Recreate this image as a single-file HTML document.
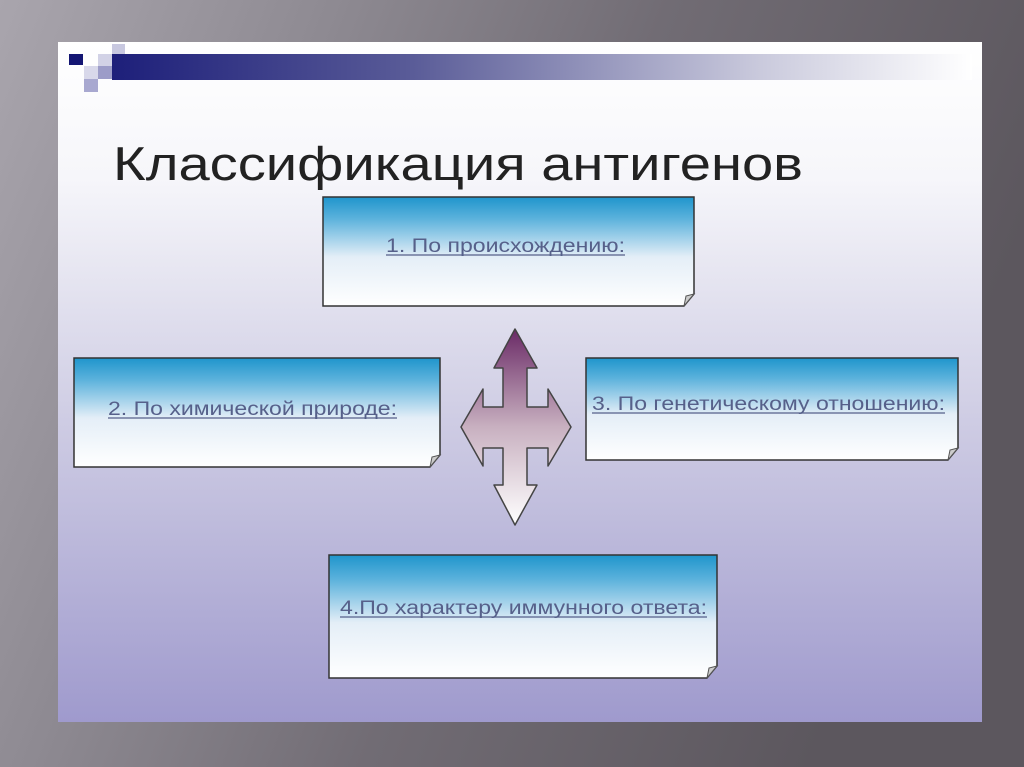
<!DOCTYPE html>
<html><head><meta charset="utf-8"><style>
html,body{margin:0;padding:0;width:1024px;height:767px;overflow:hidden;background:#666}
</style></head><body>
<svg width="1024" height="767" viewBox="0 0 1024 767" xmlns="http://www.w3.org/2000/svg" font-family="Liberation Sans, sans-serif">
<defs>
<linearGradient id="outer" x1="0" y1="0" x2="1" y2="0.3">
<stop offset="0" stop-color="#a9a5ad"/><stop offset="0.3" stop-color="#8e8a92"/><stop offset="0.6" stop-color="#716c74"/><stop offset="1" stop-color="#5c575e"/>
</linearGradient>
<linearGradient id="slide" x1="0" y1="0" x2="0" y2="1">
<stop offset="0" stop-color="#ffffff"/><stop offset="0.2" stop-color="#f6f6fa"/><stop offset="0.55" stop-color="#cfcde4"/><stop offset="1" stop-color="#9f9acd"/>
</linearGradient>
<linearGradient id="bar" x1="0" y1="0" x2="1" y2="0">
<stop offset="0" stop-color="#1d1f7a"/><stop offset="0.35" stop-color="#5a5c98"/><stop offset="0.75" stop-color="#c9c9dc"/><stop offset="1" stop-color="#ffffff"/>
</linearGradient>
<linearGradient id="box" x1="0" y1="0" x2="0" y2="1">
<stop offset="0" stop-color="#1f95cc"/><stop offset="0.2" stop-color="#5cb2dc"/><stop offset="0.55" stop-color="#e4eef7"/><stop offset="1" stop-color="#ffffff"/>
</linearGradient>
<linearGradient id="arr" x1="0" y1="0" x2="0" y2="1">
<stop offset="0" stop-color="#6a2a66"/><stop offset="0.5" stop-color="#c8b0c0"/><stop offset="1" stop-color="#ffffff"/>
</linearGradient>
</defs>
<rect width="1024" height="767" fill="url(#outer)"/>
<rect x="58" y="42" width="924" height="680" fill="url(#slide)"/>
<rect x="112" y="54" width="860" height="26" fill="url(#bar)"/>
<rect x="69" y="54" width="14" height="11" fill="#141673"/>
<rect x="98" y="54" width="14" height="12" fill="#d2d2e6"/>
<rect x="112" y="44" width="13" height="10" fill="#c8c8e0"/>
<rect x="84" y="66" width="14" height="13" fill="#d8d8ea"/>
<rect x="98" y="66" width="14" height="13" fill="#9c9cc8"/>
<rect x="84" y="79" width="14" height="13" fill="#a8a8d0"/>
<text x="113" y="180" font-size="47" fill="#222" textLength="690" lengthAdjust="spacingAndGlyphs">Классификация антигенов</text>
<g stroke="#333" stroke-width="1.5" fill="url(#box)">
<path d="M323 197H694V294L684 306H323Z"/>
<path d="M74 358H440V455L430 467H74Z"/>
<path d="M586 358H958V448L948 460H586Z"/>
<path d="M329 555H717V666L707 678H329Z"/>
</g>
<g fill="#ccc" stroke="#555" stroke-width="1">
<path d="M694 294L684 306L686 296Z"/>
<path d="M440 455L430 467L432 457Z"/>
<path d="M958 448L948 460L950 450Z"/>
<path d="M717 666L707 678L709 668Z"/>
</g>
<g font-size="19" fill="#56608a" lengthAdjust="spacingAndGlyphs">
<text x="386" y="252" textLength="239" lengthAdjust="spacingAndGlyphs">1. По происхождению:</text>
<text x="108" y="415" textLength="289" lengthAdjust="spacingAndGlyphs">2. По химической природе:</text>
<text x="592" y="410" textLength="353" lengthAdjust="spacingAndGlyphs">3. По генетическому отношению:</text>
<text x="340" y="614" textLength="367" lengthAdjust="spacingAndGlyphs">4.По характеру иммунного ответа:</text>
</g>
<g stroke="#56608a" stroke-width="1.2">
<line x1="386" y1="255" x2="625" y2="255"/>
<line x1="108" y1="418" x2="397" y2="418"/>
<line x1="592" y1="413" x2="945" y2="413"/>
<line x1="340" y1="617" x2="707" y2="617"/>
</g>
<path d="M515 329L537 368H527V407H548V389L571 427L548 466V448H527V485H537L515 525L494 485H503V448H483V466L461 427L483 389V407H503V368H494Z" fill="url(#arr)" stroke="#444" stroke-width="1.5" stroke-linejoin="round"/>
</svg>
</body></html>
